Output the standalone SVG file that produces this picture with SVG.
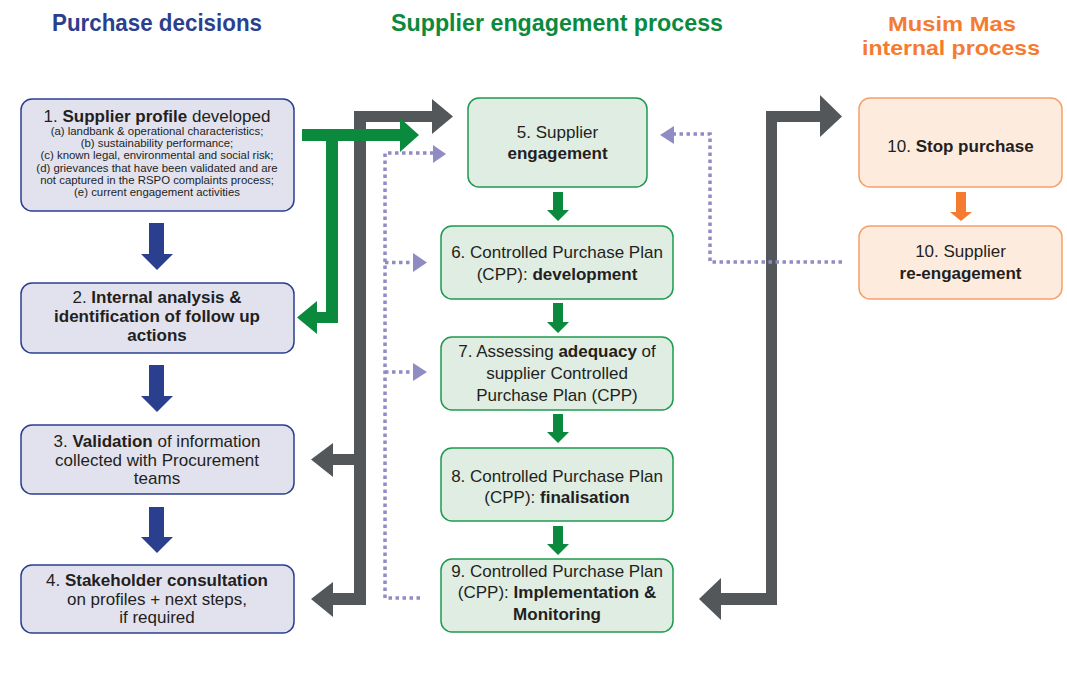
<svg xmlns="http://www.w3.org/2000/svg" width="1067" height="681" viewBox="0 0 1067 681">
<style>
text{font-family:"Liberation Sans",Arial,sans-serif;fill:#231f20;text-anchor:middle}
.b{font-weight:bold}
.t{font-size:17px}
.s{font-size:11.4px}
.title{font-size:24px;font-weight:bold}
.title2{font-size:21px;font-weight:bold}
.nb{fill:#e2e2ef;stroke:#2b3f8f;stroke-width:1.5}
.ng{fill:#dfede2;stroke:#1e9a4e;stroke-width:1.5}
.no{fill:#fdebdd;stroke:#f5a06b;stroke-width:1.5}
.gray{fill:#53575a}
.green{fill:#0b8a3e}
.blue{fill:#2b3f8f}
.orange{fill:#f47b30}
.dot{fill:none;stroke:#8f8cc4;stroke-width:3.5;stroke-dasharray:3.5 3.5}
.dh{fill:#8f8cc4}
</style>
<rect width="1067" height="681" fill="#ffffff"/>
<g id="titles">
<text class="title" x="157" y="31" style="fill:#2b3f8f" textLength="210" lengthAdjust="spacingAndGlyphs">Purchase decisions</text>
<text class="title" x="557" y="31" style="fill:#0b8a3e" textLength="332" lengthAdjust="spacingAndGlyphs">Supplier engagement process</text>
<text class="title2" x="952" y="31" style="fill:#f47b30" textLength="128" lengthAdjust="spacingAndGlyphs">Musim Mas</text>
<text class="title2" x="951" y="55" style="fill:#f47b30" textLength="178" lengthAdjust="spacingAndGlyphs">internal process</text>
</g>
<g id="connectors">
<g id="gray-left" class="gray">
<rect x="354" y="111" width="12" height="494"/>
<rect x="354" y="111" width="78" height="11"/>
<polygon points="432,99 453,116.5 432,134"/>
<rect x="333" y="454" width="33" height="11"/>
<polygon points="333,443 311,459.5 333,477"/>
<rect x="333" y="593" width="33" height="12"/>
<polygon points="333,582 311,599 333,617"/>
</g>
<g id="gray-right" class="gray">
<rect x="766" y="111" width="11" height="494"/>
<rect x="766" y="111" width="54" height="11"/>
<polygon points="820,95 842,116.5 820,137"/>
<rect x="721" y="593" width="56" height="12"/>
<polygon points="721,578 699,599 721,620"/>
</g>
<g id="green-link" class="green">
<rect x="302" y="129" width="98" height="12"/>
<polygon points="400,118 419,135 400,152"/>
<rect x="326" y="129" width="12" height="194"/>
<rect x="317" y="312" width="21" height="11"/>
<polygon points="317,301 297,317.5 317,334"/>
</g>
<g id="dotted-left">
<path class="dot" d="M420,598 H385 V153 H433"/>
<polygon class="dh" points="433,145 446,154 433,163"/>
<path class="dot" d="M385,262.5 H413"/>
<polygon class="dh" points="413,253 427,262.5 413,272"/>
<path class="dot" d="M385,372 H413"/>
<polygon class="dh" points="413,363 427,372 413,381"/>
</g>
<g id="dotted-right">
<path class="dot" d="M842,262 H710 V134 H674"/>
<polygon class="dh" points="674,126 660,135 674,144"/>
</g>
<g id="blue-arrows" class="blue">
<polygon points="149,223 164,223 164,254 173,254 157,270 141,254 149,254"/>
<polygon points="149,365 164,365 164,396 173,396 157,412 141,396 149,396"/>
<polygon points="149,507 164,507 164,537 173,537 157,553 141,537 149,537"/>
</g>
<g id="green-arrows" class="green">
<polygon points="553,192 563,192 563,210 569,210 558,221 547,210 553,210"/>
<polygon points="553,303 563,303 563,322 569,322 558,333 547,322 553,322"/>
<polygon points="553,414 563,414 563,432 569,432 558,443 547,432 553,432"/>
<polygon points="553,526 563,526 563,544 569,544 558,555 547,544 553,544"/>
</g>
<g id="orange-arrow" class="orange">
<polygon points="956,192 966,192 966,212 972,212 961,221 950,212 956,212"/>
</g>
</g>
<g id="node1">
<rect class="nb" x="21" y="99" width="273" height="112" rx="11"/>
<text class="t" x="157" y="122">1. <tspan class="b">Supplier profile</tspan> developed</text>
<text class="s" x="157" y="134.5">(a) landbank &amp; operational characteristics;</text>
<text class="s" x="157" y="146.5">(b) sustainability performance;</text>
<text class="s" x="157" y="159">(c) known legal, environmental and social risk;</text>
<text class="s" x="157" y="171.5">(d) grievances that have been validated and are</text>
<text class="s" x="157" y="183.5">not captured in the RSPO complaints process;</text>
<text class="s" x="157" y="196">(e) current engagement activities</text>
</g>
<g id="node2">
<rect class="nb" x="21" y="283" width="273" height="70" rx="11"/>
<text class="t" x="157" y="303">2. <tspan class="b">Internal analysis &amp;</tspan></text>
<text class="t b" x="157" y="322">identification of follow up</text>
<text class="t b" x="157" y="341">actions</text>
</g>
<g id="node3">
<rect class="nb" x="21" y="425" width="273" height="69" rx="11"/>
<text class="t" x="157" y="447"><tspan>3. </tspan><tspan class="b">Validation</tspan> of information</text>
<text class="t" x="157" y="466">collected with Procurement</text>
<text class="t" x="157" y="484">teams</text>
</g>
<g id="node4">
<rect class="nb" x="21" y="565" width="273" height="68" rx="11"/>
<text class="t" x="157" y="586">4. <tspan class="b">Stakeholder consultation</tspan></text>
<text class="t" x="157" y="605">on profiles + next steps,</text>
<text class="t" x="157" y="623">if required</text>
</g>
<g id="node5">
<rect class="ng" x="468" y="98" width="179" height="89" rx="11"/>
<text class="t" x="557.5" y="138">5. Supplier</text>
<text class="t b" x="557.5" y="159">engagement</text>
</g>
<g id="node6">
<rect class="ng" x="441" y="226" width="232" height="73" rx="11"/>
<text class="t" x="557" y="258">6. Controlled Purchase Plan</text>
<text class="t" x="557" y="280">(CPP): <tspan class="b">development</tspan></text>
</g>
<g id="node7">
<rect class="ng" x="441" y="337" width="232" height="73" rx="11"/>
<text class="t" x="557" y="357">7. Assessing <tspan class="b">adequacy</tspan> of</text>
<text class="t" x="557" y="379">supplier Controlled</text>
<text class="t" x="557" y="401">Purchase Plan (CPP)</text>
</g>
<g id="node8">
<rect class="ng" x="441" y="448" width="232" height="73" rx="11"/>
<text class="t" x="557" y="482">8. Controlled Purchase Plan</text>
<text class="t" x="557" y="503">(CPP): <tspan class="b">finalisation</tspan></text>
</g>
<g id="node9">
<rect class="ng" x="441" y="559" width="232" height="73" rx="11"/>
<text class="t" x="557" y="577">9. Controlled Purchase Plan</text>
<text class="t" x="557" y="598">(CPP): <tspan class="b">Implementation &amp;</tspan></text>
<text class="t b" x="557" y="620">Monitoring</text>
</g>
<g id="node10a">
<rect class="no" x="859" y="98" width="203" height="89" rx="11"/>
<text class="t" x="960.5" y="152">10. <tspan class="b">Stop purchase</tspan></text>
</g>
<g id="node10b">
<rect class="no" x="859" y="226" width="203" height="73" rx="11"/>
<text class="t" x="960.5" y="257">10. Supplier</text>
<text class="t b" x="960.5" y="279">re-engagement</text>
</g>
</svg>
